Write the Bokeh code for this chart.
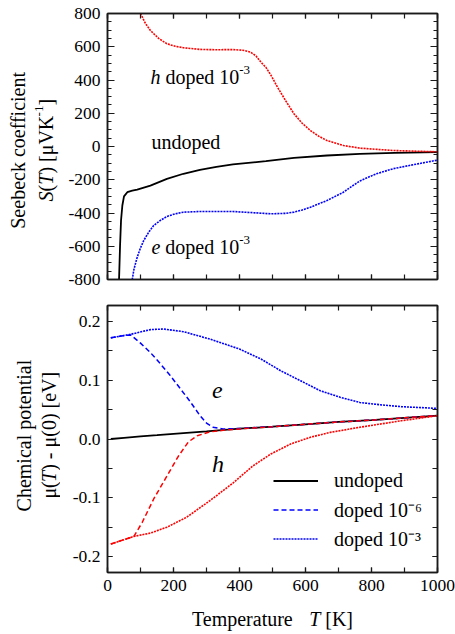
import math
from bokeh.plotting import figure
from bokeh.models import (Label, LinearAxis, SingleIntervalTicker, Range1d, Legend,
                          LegendItem, PrintfTickFormatter)
from bokeh.layouts import column, row
from bokeh.embed import file_html
from bokeh.resources import INLINE

FONT = "Liberation Serif"

# ---------------- data: Seebeck coefficient S(T) [uV/K] ----------------
T_S_undoped = [35, 38, 41, 45, 50, 60, 75, 90, 130, 180, 230, 280, 330, 380, 480, 565, 665, 765, 870, 1000]
S_undoped = [-800, -600, -445, -355, -300, -275, -266, -259, -235, -195, -164, -140, -122, -108, -88, -68, -54, -44, -38, -34]

T_S_hole = [100, 115, 130, 155, 180, 205, 230, 280, 330, 380, 410, 433, 450, 465, 480, 495, 515, 540, 565,
            590, 615, 640, 665, 715, 765, 865, 1000]
S_hole = [800, 740, 698, 650, 618, 603, 594, 584, 582, 583, 579, 568, 545, 507, 476, 430, 357, 275, 197,
          140, 96, 62, 36, 6, -10, -24, -32]

T_S_elec = [75, 80, 90, 100, 110, 125, 140, 160, 180, 205, 230, 280, 380, 440, 495, 540, 565, 590, 615, 640,
            665, 690, 715, 740, 765, 790, 815, 865, 915, 1000]
S_elec = [-800, -740, -666, -610, -565, -515, -475, -445, -421, -405, -395, -391, -391, -398, -405, -402, -395,
          -382, -365, -345, -325, -300, -275, -240, -207, -185, -164, -134, -114, -82]

# ---------------- data: chemical potential mu(T) - mu(0) [eV] ----------------
T_mu_undoped = [10, 50, 100, 150, 200, 300, 400, 500, 600, 700, 800, 900, 1000]
mu_undoped = [0.0, 0.002, 0.0045, 0.0065, 0.0088, 0.013, 0.0175, 0.021, 0.025, 0.029, 0.032, 0.036, 0.0396]

T_mu_e6 = [10, 40, 70, 100, 130, 160, 190, 220, 250, 280, 300, 320, 350, 400, 500, 600, 700, 800, 900, 1000]
mu_e6 = [0.172, 0.175, 0.177, 0.163, 0.147, 0.128, 0.108, 0.086, 0.064, 0.040, 0.027, 0.020, 0.017, 0.0178,
         0.021, 0.025, 0.029, 0.032, 0.036, 0.0396]

T_mu_h6 = [10, 45, 80, 105, 140, 180, 215, 245, 272, 310, 350, 400, 500, 600, 700, 800, 900, 1000]
mu_h6 = [-0.1786, -0.172, -0.1656, -0.142, -0.102, -0.063, -0.029, -0.005, 0.0056, 0.012, 0.0148, 0.0172,
         0.021, 0.025, 0.029, 0.032, 0.036, 0.0396]

T_mu_e3 = [10, 70, 130, 170, 230, 310, 400, 465, 525, 585, 645, 705, 765, 830, 890, 1000]
mu_e3 = [0.172, 0.178, 0.186, 0.187, 0.1825, 0.170, 0.153, 0.136, 0.116, 0.099, 0.082, 0.071, 0.062, 0.058,
         0.055, 0.052]

T_mu_h3 = [10, 80, 130, 180, 240, 310, 380, 440, 495, 555, 615, 675, 765, 890, 1000]
mu_h3 = [-0.1786, -0.1656, -0.160, -0.150, -0.133, -0.105, -0.075, -0.046, -0.0255, -0.0085, 0.003, 0.0113,
         0.020, 0.031, 0.0396]

legend_labels = ["undoped", "doped 10⁻⁶", "doped 10⁻³"]

# ---------------- helpers ----------------
W_REG = {' ': 0.25, '(': 0.333, ')': 0.333, '[': 0.333, ']': 0.333, '-': 0.333, 'a': 0.444, 'b': 0.5,
         'c': 0.444, 'd': 0.5, 'e': 0.444, 'f': 0.333, 'h': 0.5, 'i': 0.278, 'k': 0.5, 'l': 0.278,
         'm': 0.778, 'n': 0.5, 'o': 0.5, 'p': 0.5, 'r': 0.333, 't': 0.278, 'u': 0.5, 'C': 0.667,
         'K': 0.722, 'S': 0.556, 'T': 0.611, 'V': 0.722, 'μ': 0.5}
W_IT = {'S': 0.5, 'T': 0.556, 'h': 0.5, 'e': 0.444}
MID = 0.34  # distance (em) from the alphabetic baseline up to the middle of the text box


def text_w(s, size, italic=False):
    tot = 0.0
    for ch in s:
        if italic and ch in W_IT:
            tot += W_IT[ch]
        elif ch.isdigit():
            tot += 0.5
        else:
            tot += W_REG.get(ch, 0.5)
    return tot * size


def rich(fig, x, y, pieces, size, dx=0.0, dy=0.0, rotate=False, center=False):
    """Place a run of text pieces (normal / italic / superscript) on a common baseline at (x, y)."""
    sizes, widths = [], []
    for txt, st in pieces:
        fs = size * 0.65 if st == "sup" else size
        sizes.append(fs)
        widths.append(text_w(txt, fs, st == "i"))
    pos = -sum(widths) / 2 if center else 0.0
    for (txt, st), fs, w in zip(pieces, sizes, widths):
        stripped = txt.lstrip(" ")
        lead = text_w(txt[:len(txt) - len(stripped)], fs)
        stripped = stripped.rstrip(" ")
        if stripped:
            up = (size * 0.45 if st == "sup" else 0.0) + MID * fs
            p0 = pos + lead
            if rotate:
                xo, yo, ang = dx - up, dy + p0, math.pi / 2
            else:
                xo, yo, ang = dx + p0, dy + up, 0.0
            fig.add_layout(Label(x=x, y=y, x_units="data", y_units="data", text=stripped,
                                 x_offset=xo, y_offset=yo, angle=ang,
                                 text_font=FONT, text_font_size=f"{fs:.1f}px",
                                 text_font_style="italic" if st == "i" else "normal",
                                 text_align="left", text_baseline="middle", text_color="black"))
        pos += w


def style_axis(ax, ticker, tick_in, minor_in, show):
    ax.ticker = ticker
    ax.axis_line_width = 1.5
    ax.axis_line_color = "#1a1a1a"
    ax.major_tick_line_color = "#1a1a1a"
    ax.minor_tick_line_color = "#1a1a1a"
    ax.major_tick_line_width = 1.2
    ax.minor_tick_line_width = 1.2
    ax.major_tick_in = tick_in
    ax.major_tick_out = 0
    ax.minor_tick_in = minor_in
    ax.minor_tick_out = 0
    ax.major_label_text_font = FONT
    if show:
        ax.major_label_text_color = "black"
        ax.major_label_text_font_size = "17.5px"
        ax.major_label_standoff = 7
    else:
        ax.major_label_text_color = None
        ax.major_label_text_font_size = "1px"
        ax.major_label_standoff = 0


def base_fig(height, ymin, ymax, top, bottom):
    p = figure(width=395, height=height, x_range=Range1d(0, 1000), y_range=Range1d(ymin, ymax),
               output_backend="svg", toolbar_location=None,
               min_border_left=47, min_border_right=18, min_border_top=top, min_border_bottom=bottom)
    p.xgrid.visible = False
    p.ygrid.visible = False
    p.outline_line_color = "#1a1a1a"
    p.outline_line_width = 1.5
    p.background_fill_color = "white"
    p.border_fill_color = "white"
    return p


def strip(width, height):
    s = figure(width=width, height=height, x_range=Range1d(0, width), y_range=Range1d(0, height),
               output_backend="svg", toolbar_location=None, x_axis_type=None, y_axis_type=None,
               min_border=0, min_border_left=0, min_border_right=0, min_border_top=0, min_border_bottom=0)
    s.outline_line_color = None
    s.background_fill_color = "white"
    s.border_fill_color = "white"
    return s


RED = "#ff0000"
BLUE = "#0000ff"

# ---------------- top panel ----------------
p1 = base_fig(290, -800, 800, 13, 11)
p1.add_layout(LinearAxis(), "above")
p1.add_layout(LinearAxis(), "right")
for ax in p1.xaxis:
    style_axis(ax, SingleIntervalTicker(interval=200, num_minor_ticks=2), 5, 5, False)
for ax in p1.yaxis:
    style_axis(ax, SingleIntervalTicker(interval=200, num_minor_ticks=4), 7, 4, ax in p1.left)
p1.yaxis[0].formatter = PrintfTickFormatter(format="%d")

p1.line(T_S_undoped, S_undoped, line_color="black", line_width=1.8)
p1.line(T_S_hole, S_hole, line_color=RED, line_width=1.6, line_dash="2 1")
p1.line(T_S_elec, S_elec, line_color=BLUE, line_width=1.6, line_dash="2 1")

rich(p1, 130, 379, [("h", "i"), (" doped 10", "n"), ("-3", "sup")], 20)
rich(p1, 133, -12, [("undoped", "n")], 20)
rich(p1, 133, -644, [("e", "i"), (" doped 10", "n"), ("-3", "sup")], 20)

s1 = strip(60, 290)
rich(s1, 24, 141, [("Seebeck coefficient", "n")], 20, rotate=True, center=True)
rich(s1, 52, 141, [("S", "i"), ("(", "n"), ("T", "i"), (") [μVK", "n"), ("-1", "sup"), ("]", "n")], 20,
     rotate=True, center=True)

# ---------------- bottom panel ----------------
p2 = base_fig(312, -0.227, 0.227, 15, 30)
p2.add_layout(LinearAxis(), "above")
p2.add_layout(LinearAxis(), "right")
for ax in p2.xaxis:
    style_axis(ax, SingleIntervalTicker(interval=200, num_minor_ticks=2), 5, 5, ax in p2.below)
for ax in p2.yaxis:
    style_axis(ax, SingleIntervalTicker(interval=0.1, num_minor_ticks=2), 5, 5, ax in p2.left)
p2.xaxis[0].formatter = PrintfTickFormatter(format="%d")
p2.yaxis[0].formatter = PrintfTickFormatter(format="%.1f")

r_black = p2.line(T_mu_undoped, mu_undoped, line_color="black", line_width=1.8)
r_bdash = p2.line(T_mu_e6, mu_e6, line_color=BLUE, line_width=1.5, line_dash="5 3")
r_rdash = p2.line(T_mu_h6, mu_h6, line_color=RED, line_width=1.5, line_dash="5 3")
r_bdot = p2.line(T_mu_e3, mu_e3, line_color=BLUE, line_width=1.6, line_dash="2 1")
r_rdot = p2.line(T_mu_h3, mu_h3, line_color=RED, line_width=1.6, line_dash="2 1")

rich(p2, 317, 0.0685, [("e", "i")], 24)
rich(p2, 317, -0.0568, [("h", "i")], 24)

legend = Legend(items=[LegendItem(label=legend_labels[0], renderers=[r_black]),
                       LegendItem(label=legend_labels[1], renderers=[r_bdash]),
                       LegendItem(label=legend_labels[2], renderers=[r_bdot])],
                location=(166, 19), glyph_width=45, glyph_height=29, label_height=29,
                label_standoff=16, spacing=0, padding=0, margin=0,
                border_line_alpha=0, background_fill_alpha=0,
                label_text_font=FONT, label_text_font_size="20px", label_text_color="black")
p2.add_layout(legend)

s2 = strip(60, 312)
rich(s2, 30, 160, [("Chemical potential", "n")], 20, rotate=True, center=True)
rich(s2, 55, 160, [("μ(", "n"), ("T", "i"), (") - μ(0) [eV]", "n")], 20, rotate=True, center=True)

s3 = strip(455, 32)
rich(s3, 272, 9, [("Temperature", "n"), ("   ", "n"), ("T", "i"), (" [K]", "n")], 20, center=True)

layout = column(row(s1, p1), row(s2, p2), s3)
open("out.html", "w").write(file_html(layout, INLINE))
